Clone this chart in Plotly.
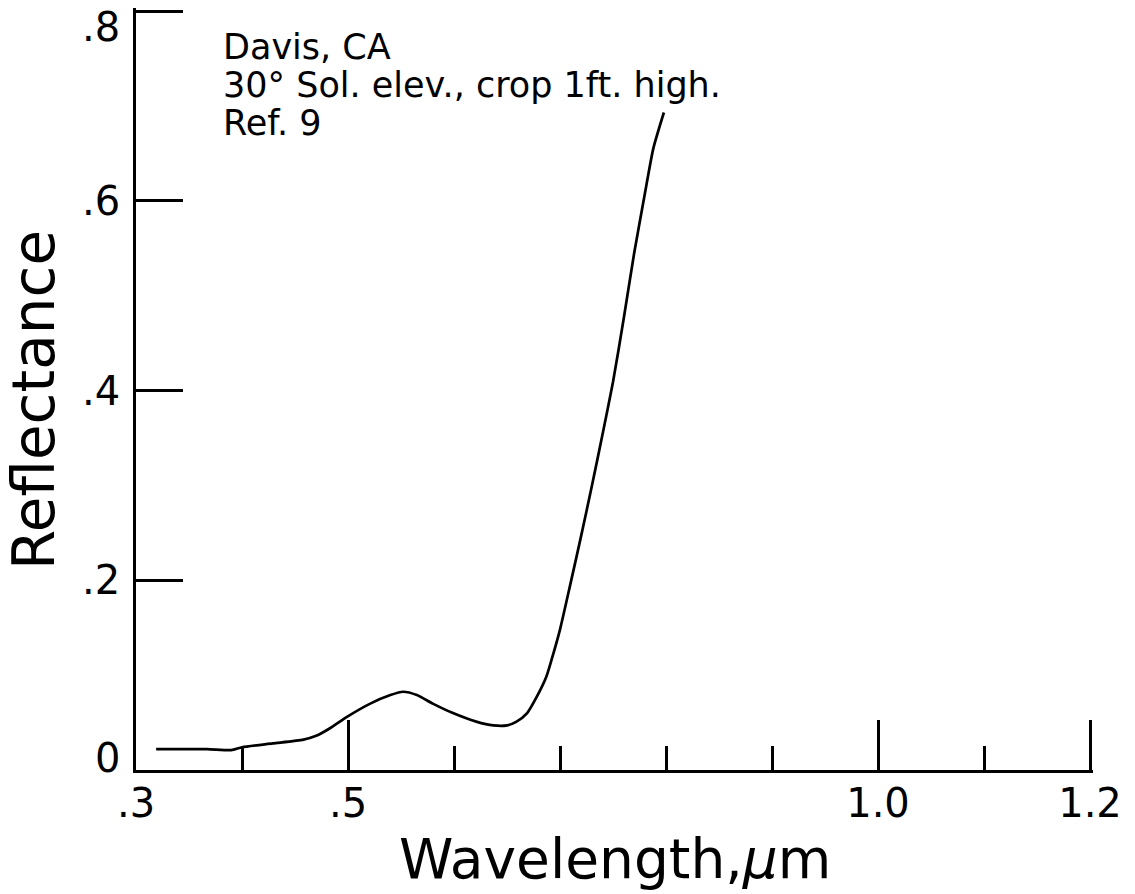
import plotly.graph_objects as go

# ---- data ----
wavelength = [0.319, 0.367, 0.390, 0.400, 0.429, 0.458, 0.470, 0.483, 0.499, 0.521,
              0.540, 0.552, 0.565, 0.580, 0.599, 0.621, 0.637, 0.650, 0.659, 0.669,
              0.678, 0.687, 0.692, 0.700, 0.710, 0.720, 0.730, 0.740, 0.750, 0.760,
              0.770, 0.780, 0.788, 0.798]
reflectance = [0.022, 0.022, 0.021, 0.024, 0.028, 0.032, 0.036, 0.044, 0.056, 0.070,
               0.079, 0.0825, 0.079, 0.070, 0.060, 0.051, 0.047, 0.047, 0.051, 0.060,
               0.077, 0.098, 0.116, 0.148, 0.197, 0.247, 0.299, 0.353, 0.409, 0.475,
               0.545, 0.607, 0.655, 0.693]

x_range = [0.3, 1.2]
y_range = [0, 0.8]
x_major_ticks = [0.3, 0.5, 1.0, 1.2]
x_major_labels = [".3", ".5", "1.0", "1.2"]
x_minor_ticks = [0.4, 0.6, 0.7, 0.8, 0.9, 1.1]
y_ticks = [0, 0.2, 0.4, 0.6, 0.8]
y_labels = ["0", ".2", ".4", ".6", ".8"]
note_lines = ["Davis, CA", "30° Sol. elev., crop 1ft. high.", "Ref. 9"]
x_title = "Wavelength,<i>μ</i>m"
y_title = "Reflectance"

# ---- layout geometry (pixels) ----
W, H = 1135, 894
X0_PX, X1_PX = 136, 1090      # pixel positions of x_range ends
Y0_PX, Y1_PX = 770, 11        # pixel positions of y_range ends
PAD = 3                       # extra px beyond the last ticks so they are drawn
FONT = "DejaVu Sans"

sx = (X1_PX - X0_PX) / (x_range[1] - x_range[0])
sy = (Y0_PX - Y1_PX) / (y_range[1] - y_range[0])
x_hi = x_range[1] + PAD / sx
y_hi = y_range[1] + PAD / sy
L, R = X0_PX, W - (X1_PX + PAD)
T, B = Y1_PX - PAD, H - Y0_PX
PW, PH = W - L - R, H - T - B


def px_x(px):
    return (px - L) / PW


def px_y(py):
    return (H - B - py) / PH


fig = go.Figure()
fig.add_trace(go.Scatter(
    x=wavelength, y=reflectance, mode="lines",
    line=dict(color="black", width=2.7, shape="spline", smoothing=0.6),
    showlegend=False, hoverinfo="x+y",
))

annotations = []
# y tick labels
for val, txt in zip(y_ticks, y_labels):
    shift = 0
    if val == max(y_ticks):
        shift = -16
    elif val == min(y_ticks):
        shift = 12
    annotations.append(dict(
        x=x_range[0], y=val, xref="x", yref="y", text=txt, showarrow=False,
        xanchor="right", yanchor="middle", xshift=-14, yshift=shift,
        font=dict(family=FONT, size=40, color="black"),
    ))

# note lines
for i, line in enumerate(note_lines):
    annotations.append(dict(
        x=px_x(221), y=px_y(47.5 + 37.5 * i), xref="paper", yref="paper",
        text=line, showarrow=False, xanchor="left", yanchor="middle",
        font=dict(family=FONT, size=35, color="black"),
    ))

# axis titles
annotations.append(dict(
    x=px_x(615), y=px_y(859), xref="paper", yref="paper", text=x_title,
    showarrow=False, xanchor="center", yanchor="middle",
    font=dict(family=FONT, size=55, color="black"),
))
annotations.append(dict(
    x=px_x(34), y=px_y(400), xref="paper", yref="paper", text=y_title,
    showarrow=False, xanchor="center", yanchor="middle", textangle=-90,
    font=dict(family=FONT, size=58, color="black"),
))

fig.update_layout(
    width=W, height=H,
    margin=dict(l=L, r=R, t=T, b=B, pad=0),
    paper_bgcolor="white", plot_bgcolor="white",
    font=dict(family=FONT, color="black"),
    annotations=annotations,
    xaxis=dict(
        range=[x_range[0], x_hi], showgrid=False, zeroline=False,
        showline=True, linecolor="black", linewidth=2.5,
        tickmode="array", tickvals=x_major_ticks, ticktext=x_major_labels,
        ticks="inside", ticklen=50, tickwidth=2.5, tickcolor="black",
        tickfont=dict(family=FONT, size=40, color="black"),
        ticklabelstandoff=-4,
        minor=dict(tickmode="array", tickvals=x_minor_ticks, ticks="inside",
                   ticklen=24, tickwidth=2.5, tickcolor="black", showgrid=False),
        fixedrange=True,
    ),
    yaxis=dict(
        range=[y_range[0], y_hi], showgrid=False, zeroline=False,
        showline=True, linecolor="black", linewidth=2.5,
        tickmode="array", tickvals=y_ticks, showticklabels=False,
        ticks="inside", ticklen=47, tickwidth=2.5, tickcolor="black",
        fixedrange=True,
    ),
)

fig.write_html("out.html")
